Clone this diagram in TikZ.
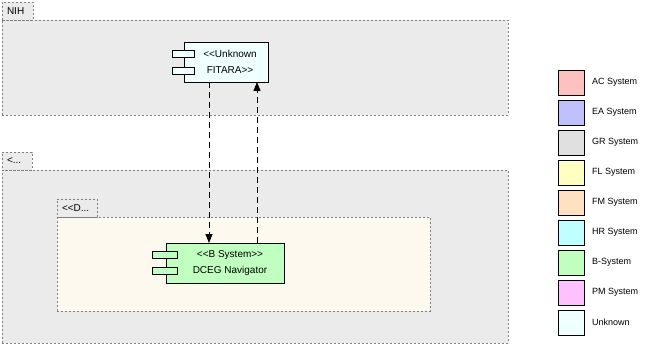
\documentclass[tikz,border=0pt]{standalone}
\usepackage{fontspec}
\setmainfont{Liberation Sans}
\usetikzlibrary{arrows.meta, positioning}

\definecolor{pkggray}{HTML}{EBEBEB}
\definecolor{pkgcream}{HTML}{FDF9EE}
\definecolor{acred}{HTML}{FFC0C0}
\definecolor{eablue}{HTML}{C0C0FF}
\definecolor{grgray}{HTML}{E0E0E0}
\definecolor{flyellow}{HTML}{FFFFC0}
\definecolor{fmorange}{HTML}{FFE0C0}
\definecolor{hrcyan}{HTML}{C0FFFF}
\definecolor{bgreen}{HTML}{C0FFC0}
\definecolor{pmpink}{HTML}{FFC0FF}
\definecolor{unkwhite}{HTML}{F0FFFF}

% stereotype brackets, kept apart so they do not merge into guillemets
\newcommand{\stopen}{<\kern0pt<}
\newcommand{\stclose}{>\kern0pt>}

\begin{document}
\begin{tikzpicture}[x=1pt, y=-1pt]
      \tikzstyle{pkg}=[rectangle, draw=gray, dash pattern=on 2pt off 2pt, fill=pkggray, inner sep=0pt, outer sep=0pt, anchor=north west]
      \tikzstyle{tab}=[pkg, anchor=south west, minimum height=18pt, inner xsep=5pt, align=left, font=\fontsize{10}{12}\selectfont]
      \tikzstyle{comp}=[rectangle, draw, line width=0.8pt, inner sep=0pt, outer sep=0pt, minimum height=40pt, align=center, font=\fontsize{10}{16}\selectfont]
      \tikzstyle{port}=[rectangle, draw, line width=0.8pt, inner sep=0pt, minimum width=22pt, minimum height=7pt]
      \tikzstyle{flow}=[draw, line width=0.8pt, dash pattern=on 6pt off 4pt, -{Triangle[length=9pt, width=7pt]}]
      \tikzstyle{swatch}=[rectangle, draw, line width=0.8pt, minimum width=26pt, minimum height=25pt, inner sep=0pt, outer sep=0pt]
      \tikzstyle{key}=[inner sep=0pt, font=\fontsize{9}{10}\selectfont]
      \useasboundingbox (0,0) rectangle (652,347);

      % packages
      \node[pkg, minimum width=506pt, minimum height=95pt] (nih) at (2,20) {};
      \node[tab, text width=21pt] (nihtab) at (nih.north west) {NIH};
      \node[pkg, minimum width=506pt, minimum height=173pt] (outer) at (2,170) {};
      \node[tab, text width=20pt] (outertab) at (outer.north west) {<...};
      \node[pkg, fill=pkgcream, minimum width=373pt, minimum height=94pt] (dceg) at (57,217) {};
      \node[tab, text width=30pt] (dcegtab) at (dceg.north west) {\stopen D...};

      % components
      \node[comp, fill=unkwhite, minimum width=84pt] (fitara) at (226,62) {\hspace*{8pt}\stopen Unknown\\\hspace*{8pt}FITARA\stclose};
      \node[port, fill=unkwhite] at ([xshift=-1pt, yshift=8.5pt]fitara.west) (fitaraa) {};
      \node[port, fill=unkwhite] at ([xshift=-1pt, yshift=-8.5pt]fitara.west) (fitarab) {};
      \node[comp, fill=bgreen, minimum width=118pt] (nav) at (225,263) {\hspace*{10pt}\stopen B System\stclose\\\hspace*{10pt}DCEG Navigator};
      \node[port, fill=bgreen, minimum width=25pt] at ([xshift=-1.5pt, yshift=8pt]nav.west) (nava) {};
      \node[port, fill=bgreen, minimum width=25pt] at ([xshift=-1.5pt, yshift=-8pt]nav.west) (navb) {};

      % flows
      \coordinate (down) at ([xshift=-17pt]fitara.south);
      \coordinate (up) at ([xshift=32pt]nav.north);
      \draw[flow] (down) -- (down |- nav.north);
      \draw[flow] (up) -- (up |- fitara.south);

      % legend
      \node[swatch, fill=acred] (ac) at (571,82.5) {};
      \node[swatch, fill=eablue, below=5pt of ac] (ea) {};
      \node[swatch, fill=grgray, below=5pt of ea] (gr) {};
      \node[swatch, fill=flyellow, below=5pt of gr] (fl) {};
      \node[swatch, fill=fmorange, below=5pt of fl] (fm) {};
      \node[swatch, fill=hrcyan, below=5pt of fm] (hr) {};
      \node[swatch, fill=bgreen, below=5pt of hr] (bs) {};
      \node[swatch, fill=pmpink, below=5pt of bs] (pm) {};
      \node[swatch, fill=unkwhite, below=5pt of pm] (unk) {};
      \node[key, right=8pt of ac] (aclbl) {AC System};
      \node[key, right=8pt of ea] (ealbl) {EA System};
      \node[key, right=8pt of gr] (grlbl) {GR System};
      \node[key, right=8pt of fl] (fllbl) {FL System};
      \node[key, right=8pt of fm] (fmlbl) {FM System};
      \node[key, right=8pt of hr] (hrlbl) {HR System};
      \node[key, right=8pt of bs] (bslbl) {B-System};
      \node[key, right=8pt of pm] (pmlbl) {PM System};
      \node[key, right=8pt of unk] (unklbl) {Unknown};
  \end{tikzpicture}
\end{document}
